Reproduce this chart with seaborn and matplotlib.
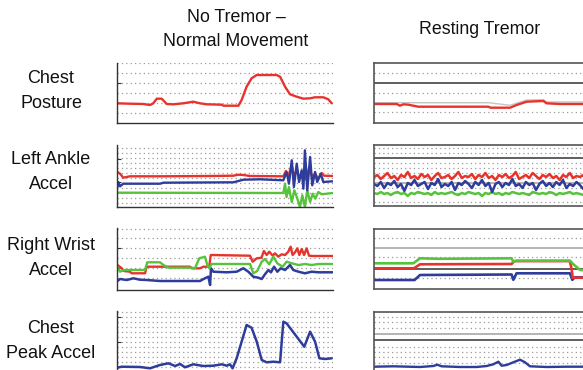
import numpy as np
import pandas as pd
import matplotlib
matplotlib.use("Agg")
import matplotlib.pyplot as plt
import seaborn as sns

# --- data (x: 0-100 across the panel, y: height above panel bottom) ---

col_titles = ["No Tremor –\nNormal Movement", "Resting Tremor"]
row_labels = ["Chest\nPosture", "Left Ankle\nAccel", "Right Wrist\nAccel", "Chest\nPeak Accel"]

# Chest posture, normal movement
posture_nt_x = [0, 6, 12.2, 15.3, 16.8, 18.4, 20.7, 23, 26.1, 30.7, 35.3, 38.4, 41.5, 48.5, 49.2, 56.2,
                57.7, 60, 62.3, 64.7, 73.9, 75.5, 77.8, 80.1, 83.2, 86.3, 89.4, 91.7, 95.5, 97.8, 99.4]
posture_nt_red = [19.7, 19.3, 19, 18, 19.7, 24.3, 24.3, 19, 18.7, 19.7, 21.3, 19.7, 18.7, 18.3, 17.3, 17.3,
                  23, 36.3, 44.7, 48, 48, 46.3, 36.3, 28.7, 26.3, 24.3, 24.7, 25.7, 25.7, 23.7, 19.7]

# Chest posture, resting tremor
posture_rt_x = [0, 10.5, 12, 13.6, 15.9, 20.5, 52.9, 54, 63, 66, 70.7, 78.4, 79.9, 86.1, 100]
posture_rt_red = [19, 19, 17.3, 18.7, 18.3, 16.3, 16.3, 15.3, 15.3, 18, 21.3, 22, 19.7, 19, 19]
posture_rt_gray_x = [0, 53, 63, 70.7, 78.4, 79.9, 100]
posture_rt_gray = [20.3, 20.3, 17.7, 23, 23.3, 21, 21]

# Left ankle, normal movement
ankle_nt_red_x = [0.2, 1.4, 2.9, 6, 19.9, 43, 53.9, 56.2, 58.5, 61.6, 77, 78.2, 79.3, 80.9, 81.9, 83.2,
                  84.4, 86, 87.5, 89, 90.3, 91.7, 93.2, 94.8, 95.8, 99.8]
ankle_nt_red = [35, 33.3, 29.3, 30.7, 30.7, 31, 31.3, 32.3, 32, 31, 30.7, 36, 30.7, 41.7, 29.3, 38.3,
                28.3, 35, 27.3, 40, 30, 33.3, 28.3, 34, 31.3, 31]
ankle_nt_blue_x = [0.2, 0.6, 1.4, 2.9, 19.9, 21.5, 53.9, 58.5, 66.2, 77, 78.5, 79.6, 80.9, 81.9, 83.2,
                   84.3, 85.5, 86.3, 87, 88.1, 89.4, 90.4, 91.7, 92.7, 94.3, 95.5, 99.8]
ankle_nt_blue = [20, 25, 20.7, 23.3, 23.3, 24.3, 24.7, 27.3, 27.7, 26.7, 35, 23.3, 46.7, 20, 43.3,
                 25, 36.7, 18.3, 56.7, 16.7, 50, 21.7, 35, 25, 33.3, 25, 25.7]
ankle_nt_green_x = [0.2, 77, 77.8, 78.5, 79.6, 80.9, 82.1, 83.5, 84.7, 85.8, 87, 88.1, 89.4, 90.6,
                    91.8, 93.2, 94.8, 99.8]
ankle_nt_green = [14.3, 14, 23.3, 10, 20, 5, 16.7, 8.3, 0, 11.7, 0, 16.7, 5, 13.3, 8.3, 15, 12.7, 14]

# Left ankle, resting tremor (sampled evenly)
ankle_rt_red = [29, 31, 27, 30, 33, 28, 30, 26, 31, 29, 34, 28, 30, 27, 32, 29, 31, 26, 30, 33, 28, 29,
                31, 27, 30, 34, 28, 30, 29, 32, 27, 31, 29, 33, 28, 30, 26, 31, 29, 32, 28, 30, 34, 27,
                29, 31, 28, 33, 30, 27, 31, 29, 32, 28, 30, 26, 31, 29, 33, 28, 30, 29, 31, 27, 30]
ankle_rt_blue = [22, 20, 24, 18, 23, 21, 25, 19, 22, 15, 23, 21, 26, 20, 22, 24, 17, 23, 21, 27, 19, 22,
                 20, 24, 16, 23, 21, 25, 22, 18, 24, 21, 26, 20, 23, 14, 22, 24, 19, 23, 21, 27, 20, 22,
                 18, 24, 21, 23, 16, 22, 25, 20, 23, 19, 24, 21, 26, 18, 22, 20, 24, 21, 17, 23, 22]
ankle_rt_green = [13, 12, 14, 12, 13, 11, 13, 14, 12, 13, 10, 13, 12, 14, 13, 12, 13, 11, 14, 12, 13, 12,
                  13, 14, 12, 11, 13, 12, 14, 13, 12, 13, 10, 13, 12, 14, 12, 13, 11, 13, 12, 14, 13, 12,
                  13, 12, 11, 14, 13, 12, 13, 12, 14, 13, 11, 13, 12, 13, 14, 12, 13, 12, 11, 13, 12]

# Right wrist, normal movement
wrist_nt_red_x = [0.2, 2.2, 3.2, 6, 6.8, 13, 13.7, 33.8, 34.6, 38.4, 40, 42.7, 43.4, 61.6, 62.8, 64.7,
                  66.9, 68, 69.3, 70.5, 72.1, 73.1, 74.7, 76.2, 77.8, 79.3, 80.4, 81.3, 82.4, 83.5,
                  84.4, 85.5, 86.6, 87.8, 88.9, 90.9, 99.8]
wrist_nt_red = [25, 21.7, 19, 18.3, 16.7, 16.7, 23.3, 23.3, 21.7, 21.7, 23.3, 23.3, 35, 34.3, 28.3, 31.7,
                32.3, 39, 35, 38.3, 34.3, 36.7, 33.3, 35.7, 35, 38.3, 43.3, 35, 37.7, 41.7,
                35, 41, 35, 41.7, 34.3, 34, 34]
wrist_nt_green_x = [0.2, 1.4, 3.2, 13, 14, 19.9, 21.5, 23.8, 34.6, 36.1, 38.1, 40.7, 41.8, 42.7, 43.8,
                    61.6, 63.1, 64.9, 67, 68.5, 70.5, 72.4, 74.2, 76.7, 78.5, 80.9, 84, 87, 90.1, 93.2, 99.8]
wrist_nt_green = [23.3, 18.3, 20, 20, 27.7, 27.7, 25, 22.3, 22.3, 21.7, 31.7, 33.3, 25, 21.7, 26,
                  26, 16.7, 19, 28.3, 31, 25.7, 33.3, 26.7, 23.3, 28.3, 26.7, 25, 26, 25, 26, 26]
wrist_nt_blue_x = [0.2, 1.4, 4.5, 7.6, 10.6, 13.7, 19.9, 38.4, 40.7, 42.3, 43.1, 43.5, 44.6, 50.8, 55.4,
                   58.5, 60.8, 63.1, 65.4, 67, 68.5, 70.1, 71.3, 72.7, 74.2, 75.8, 77.8, 80.1, 81.6, 84,
                   87, 90.1, 93.2, 99.8]
wrist_nt_blue = [9, 11, 10, 11.7, 10.3, 10, 9, 9, 11.7, 13.3, 5, 21.7, 18.3, 17.7, 18.3,
                 21.7, 18.3, 13.3, 12.3, 11, 15.7, 20, 17.7, 23.3, 18.3, 21.7, 20, 25, 20, 18.3,
                 16.7, 18.3, 17.7, 17.7]

# Right wrist, resting tremor
wrist_rt_green_x = [0, 18.2, 21.3, 30, 63.7, 64.5, 66, 90.7, 92.3, 95.4, 100]
wrist_rt_green = [26, 26, 31, 30.5, 31, 27.5, 28.6, 28.6, 25, 19.3, 19]
wrist_rt_red_x = [0, 18.5, 21.3, 63.7, 65, 90.7, 91.5, 92, 100]
wrist_rt_red = [21, 21, 25, 25.3, 28.2, 28.2, 20, 11.6, 11.6]
wrist_rt_blue_x = [0, 18.8, 21.3, 63.7, 64.5, 66, 90.7, 91.8, 93, 100]
wrist_rt_blue = [9.3, 9.3, 14.3, 14.8, 9.5, 16, 16, 9.5, 12, 12]

# Chest peak accel, normal movement
peak_nt_x = [0.2, 2.2, 10.6, 15.3, 19.9, 23.8, 26.9, 29.2, 31.5, 35.3, 40, 44.6, 48.5, 50.8, 52.3, 53.5,
             55.4, 57.7, 60, 62.3, 64.7, 67, 69.3, 72.4, 75.5, 77, 78.5, 83.2, 86.7, 89.4, 91.7, 93.7,
             96.3, 99.4]
peak_nt_blue = [4.3, 5.3, 5, 3.7, 7, 8.7, 6, 8, 4.7, 7.7, 6, 6.3, 7.7, 6.3, 7.7, 3.7,
                13.7, 30.3, 47, 44.3, 30.3, 12, 9.7, 10.3, 9.7, 50.3, 48.7, 35.3, 25.3, 40.3, 30.3, 13.7,
                13, 13.7]

# Chest peak accel, resting tremor
peak_rt_x = [0, 9, 21.3, 27.5, 29.3, 31.3, 39.8, 47.5, 52.2, 55.2, 57.6, 59.1, 61.4, 64.5, 67.6, 69.9,
             72.2, 79.9, 89.2, 100]
peak_rt_blue = [5.3, 5.7, 5, 6, 7.3, 5.7, 5, 5, 6, 7.7, 10.3, 6.3, 7, 9.7, 12.3, 9.7,
                5.7, 5, 5.3, 5.3]

RED, GREEN, BLUE = "#e8332c", "#57c33d", "#2e3c9c"

# --- figure ---
sns.set_theme(style="white")
plt.rcParams["font.family"] = ["Liberation Sans", "DejaVu Sans"]

W, H = 583, 370
fig = plt.figure(figsize=(W / 100, H / 100), dpi=100)


def make_ax(left, top, width, height):
    ax = fig.add_axes([left / W, 1 - (top + height) / H, width / W, height / H])
    ax.set_xlim(0, 100)
    ax.set_ylim(0, height)
    ax.set_xticks([])
    return ax


def style_left(ax, grid, ticks):
    for g in grid:
        ax.axhline(g, color="#9a9a9a", lw=0.9, ls=(0, (1, 2.5)), zorder=0)
    for s in ["top", "right"]:
        ax.spines[s].set_visible(False)
    for s in ["left", "bottom"]:
        ax.spines[s].set_color("#333333")
        ax.spines[s].set_linewidth(1.0)
    ax.set_yticks(ticks)
    ax.tick_params(axis="y", direction="in", length=3, width=0.8, color="#333333",
                   labelleft=False, left=True)


def style_right(ax, grid, solid, gray=()):
    for g in grid:
        ax.axhline(g, color="#9a9a9a", lw=0.9, ls=(0, (1, 2.5)), zorder=0)
    for g in gray:
        ax.axhline(g, color="#a8a8a8", lw=1.2, zorder=0)
    for g in solid:
        ax.axhline(g, color="#333333", lw=1.1, zorder=0)
    for s in ax.spines.values():
        s.set_visible(True)
        s.set_color("#555555")
        s.set_linewidth(1.2)
    ax.set_yticks([])


def trace(ax, x, y, color, lw=1.7):
    sns.lineplot(x=x, y=y, color=color, lw=lw, ax=ax, sort=False, estimator=None)
    ax.set_xlim(0, 100)
    ax.set_xlabel("")
    ax.set_ylabel("")


# row 1: chest posture
ax = make_ax(117, 63, 216, 60)
style_left(ax, [10, 20, 30, 40, 50, 60], [20, 40])
trace(ax, posture_nt_x, posture_nt_red, RED)

ax = make_ax(374, 63, 216, 60)
style_right(ax, [11, 30, 50], [40])
trace(ax, posture_rt_gray_x, posture_rt_gray, "#c4c4c4", 1.0)
trace(ax, posture_rt_x, posture_rt_red, RED)

# row 2: left ankle accel
ax = make_ax(117, 145, 216, 62)
style_left(ax, np.arange(4.3, 60, 5), [25, 48])
trace(ax, ankle_nt_green_x, ankle_nt_green, GREEN)
trace(ax, ankle_nt_red_x, ankle_nt_red, RED)
trace(ax, ankle_nt_blue_x, ankle_nt_blue, BLUE)

ax = make_ax(374, 145, 216, 61)
style_right(ax, [57.7, 52.7, 42.7, 37.7, 32.7, 27.7, 17.7, 12.7, 4.3], [47.7], [23.3])
n = len(ankle_rt_red)
xs = [100 * i / (n - 1) for i in range(n)]
trace(ax, xs, ankle_rt_green, GREEN, 1.8)
trace(ax, xs, ankle_rt_red, RED, 1.8)
trace(ax, xs, ankle_rt_blue, BLUE, 1.8)

# row 3: right wrist accel
ax = make_ax(117, 228, 216, 62)
style_left(ax, [11.7, 21.7, 31.7, 41.7, 51.7, 61], [21.7, 41.7])
trace(ax, wrist_nt_blue_x, wrist_nt_blue, BLUE, 1.8)
trace(ax, wrist_nt_red_x, wrist_nt_red, RED)
trace(ax, wrist_nt_green_x, wrist_nt_green, GREEN)

ax = make_ax(374, 229, 216, 60.3)
style_right(ax, [51, 32, 11], [20], [41])
trace(ax, wrist_rt_blue_x, wrist_rt_blue, BLUE, 1.9)
trace(ax, wrist_rt_red_x, wrist_rt_red, RED, 1.9)
trace(ax, wrist_rt_green_x, wrist_rt_green, GREEN, 1.9)

# row 4: chest peak accel
ax = make_ax(117, 311, 216, 61)
style_left(ax, np.arange(5.3, 61, 5), [30, 55])
trace(ax, peak_nt_x, peak_nt_blue, BLUE, 1.8)

ax = make_ax(374, 312, 216, 60)
style_right(ax, [55.3, 49.7, 43.7, 25.3, 20.3, 14.7, 8.7], [32], [37.7])
trace(ax, peak_rt_x, peak_rt_blue, BLUE, 1.7)

# titles and row labels
fig.text(236 / W, 1 - 29.5 / H, col_titles[0], ha="center", va="center", fontsize=12.8,
         linespacing=1.55, color="#111111")
fig.text(480 / W, 1 - 30 / H, col_titles[1], ha="center", va="center", fontsize=12.8,
         color="#111111")
for label, yc in zip(row_labels, [91, 172, 258, 341]):
    fig.text(51 / W, 1 - yc / H, label, ha="center", va="center", fontsize=13,
             linespacing=1.55, color="#111111")

fig.savefig("out.png", dpi=100)
